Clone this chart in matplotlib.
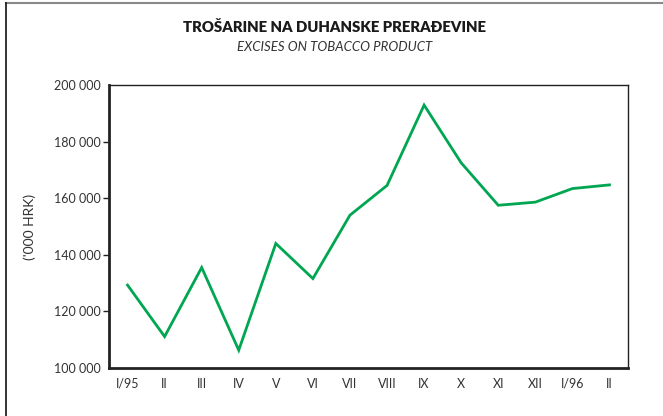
import matplotlib.pyplot as plt
from matplotlib.lines import Line2D

months = ['I/95', 'II', 'III', 'IV', 'V', 'VI', 'VII', 'VIII', 'IX', 'X',
          'XI', 'XII', 'I/96', 'II']
excises = [129300, 111100, 135500, 106300, 144000, 131600, 154000, 164500,
           192900, 172500, 157500, 158600, 163400, 164700]
yticks = [100000, 120000, 140000, 160000, 180000, 200000]
ylabels = ['100 000', '120 000', '140 000', '160 000', '180 000', '200 000']

plt.rcParams['font.family'] = ['Lato', 'DejaVu Sans']

fig = plt.figure(figsize=(6.63, 4.16), dpi=100)
ax = fig.add_axes([0.1644, 0.1154, 0.7828, 0.6803])

x = list(range(len(months)))
ax.plot(x, excises, color='#00a651', lw=2.0, solid_joinstyle='miter')

ax.set_xlim(-0.5, 13.5)
ax.set_ylim(100000, 200000)
ax.set_xticks(x)
ax.set_xticklabels(months, fontsize=9, color='#333333')
ax.set_yticks(yticks)
ax.set_yticklabels(ylabels, fontsize=9, color='#333333')
ax.tick_params(axis='x', length=0, pad=7)
ax.tick_params(axis='y', length=4, width=1, color='#222222', pad=2)
for t in (ax.yaxis.get_major_ticks()[0], ax.yaxis.get_major_ticks()[-1]):
    t.tick1line.set_visible(False)

for side in ('left', 'bottom'):
    ax.spines[side].set_linewidth(2)
    ax.spines[side].set_color('#222222')
for side in ('top', 'right'):
    ax.spines[side].set_linewidth(1)
    ax.spines[side].set_color('#222222')

ax.set_ylabel("('000 HRK)", fontsize=10, color='#333333')
ax.yaxis.set_label_coords(-0.14, 0.5)

fig.text(0.505, 0.935, 'TROŠARINE NA DUHANSKE PRERAĐEVINE', ha='center',
         va='center', fontsize=10.7, fontweight='heavy', color='#1a1a1a')
fig.text(0.505, 0.887, 'EXCISES ON TOBACCO PRODUCT', ha='center',
         va='center', fontsize=9.5, style='italic', color='#333333')

# page frame: grey top line, black left line
fig.add_artist(Line2D([0.009, 1.0], [0.993, 0.993], color='#888888', lw=1.5))
fig.add_artist(Line2D([0.009, 0.009], [0.0, 0.993], color='#111111', lw=1.2))

fig.savefig('out.png', dpi=100)
